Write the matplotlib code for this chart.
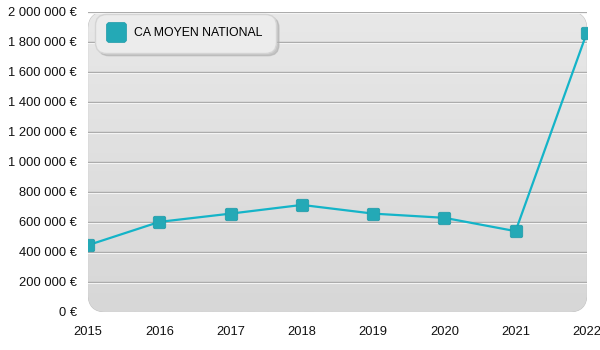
import numpy as np
import matplotlib.pyplot as plt
import matplotlib.transforms as mtransforms
from matplotlib.patches import FancyBboxPatch
from matplotlib.path import Path
from matplotlib.colors import LinearSegmentedColormap
from matplotlib.ticker import FuncFormatter

plt.rcParams['font.family'] = ['Liberation Sans', 'DejaVu Sans']

years = [2015, 2016, 2017, 2018, 2019, 2020, 2021, 2022]
ca_moyen = [445000, 600000, 655000, 713000, 655000, 627000, 538000, 1860000]
y_ticks = np.arange(0, 2000001, 200000)
series_label = "CA MOYEN NATIONAL"


def euro(v, pos):
    s = "{:,.0f}".format(v).replace(",", " ")
    return s + " €"


def rounded_square(r=0.3):
    # square from -1..1 with rounded corners
    pts = [(1, 1), (-1, 1), (-1, -1), (1, -1)]
    verts = [(1, 1 - r)]
    codes = [Path.MOVETO]
    for i in range(4):
        cx, cy = pts[i]
        px, py = pts[i - 1]
        nx, ny = pts[(i + 1) % 4]
        verts.append((cx + np.sign(px - cx) * r, cy + np.sign(py - cy) * r))
        codes.append(Path.LINETO)
        verts.append((cx, cy))
        codes.append(Path.CURVE3)
        verts.append((cx + np.sign(nx - cx) * r, cy + np.sign(ny - cy) * r))
        codes.append(Path.CURVE3)
    verts.append((1, 1 - r))
    codes.append(Path.CLOSEPOLY)
    return Path(verts, codes)


marker = rounded_square()

fig = plt.figure(figsize=(6, 3.5), dpi=100)
ax = fig.add_axes([0.147, 0.109, 0.831, 0.857])
ax.set_xlim(2015, 2022)
ax.set_ylim(0, 2000000)

# rounded gradient background
ax.patch.set_visible(False)
bg = FancyBboxPatch((0, 0), 1, 1, boxstyle="round,pad=0,rounding_size=0.035",
                    transform=ax.transAxes, facecolor="#dedede", edgecolor="#c4c4c4",
                    lw=0.8, zorder=0, mutation_aspect=1.66)
ax.add_patch(bg)
grad = np.linspace(0, 1, 100).reshape(-1, 1)
cmap = LinearSegmentedColormap.from_list("g", ["#d7d7d7", "#e8e8e8"])
im = ax.imshow(grad, extent=[0, 1, 0, 1], transform=ax.transAxes, aspect="auto",
               cmap=cmap, origin="lower", zorder=0.5)
im.set_clip_path(bg)

# grid lines with white highlight
shift = mtransforms.ScaledTranslation(0, -1 / 100, fig.dpi_scale_trans)
ytrans = ax.get_yaxis_transform()
for v in y_ticks[1:]:
    ax.plot([0, 1], [v, v], color="#a8a8a8", lw=1.0, zorder=1, transform=ytrans)
    ax.plot([0, 1], [v, v], color="#f4f4f4", lw=0.8, zorder=1,
            transform=ytrans + shift)

ax.plot(years, ca_moyen, color="#14b4c8", lw=1.6, zorder=3)
ax.plot(years, ca_moyen, ls="none", marker=marker, ms=9, mfc="#24a9b6",
        mec="#1e9aa8", mew=0.5, zorder=4, label=series_label)

for s in ax.spines.values():
    s.set_visible(False)
ax.set_yticks(y_ticks)
ax.yaxis.set_major_formatter(FuncFormatter(euro))
ax.set_xticks(years)
ax.tick_params(length=0, labelsize=9.3, colors="#111111")
ax.tick_params(axis="y", pad=8)
ax.tick_params(axis="x", pad=10)

leg = ax.legend(loc="upper left", bbox_to_anchor=(0.014, 0.993), frameon=True,
                fancybox=True, shadow={'color': '#b0b0b0', 'alpha': 0.6},
                fontsize=8.8, borderpad=1.1, handletextpad=0.9,
                markerscale=1.6, handlelength=1.2, borderaxespad=0)
leg.get_frame().set_facecolor("#ececec")
leg.get_frame().set_edgecolor("#d4d4d4")
leg.get_frame().set_alpha(1)
leg.get_frame().set_boxstyle("round,pad=0,rounding_size=0.9")

fig.savefig("out.png", dpi=100)
